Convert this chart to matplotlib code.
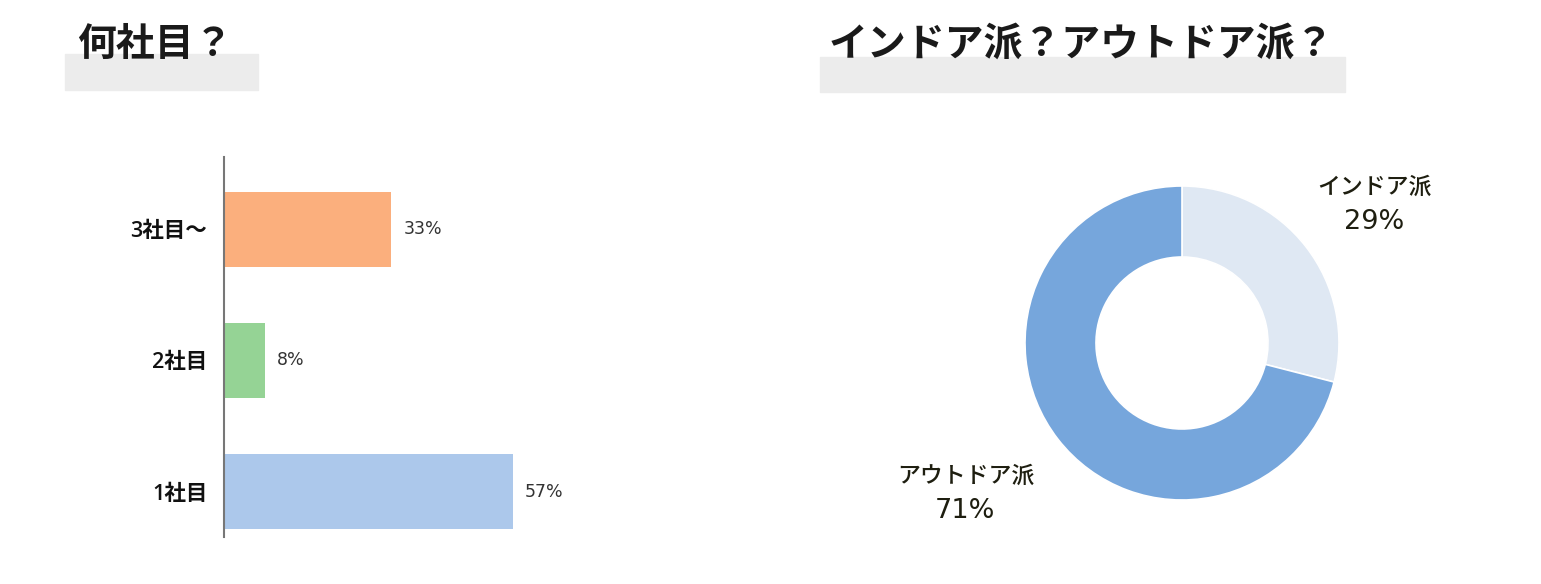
import matplotlib
matplotlib.use('Agg')
import matplotlib.pyplot as plt
import numpy as np
from matplotlib.patches import Rectangle

# latin glyphs from Open Sans, japanese falls through to Noto CJK
plt.rcParams['font.family'] = ['Open Sans', 'Noto Sans CJK JP', 'DejaVu Sans']
PCT_FONT = ['DejaVu Sans', 'Noto Sans CJK JP']

# data
bar_labels = ['1社目', '2社目', '3社目～']
bar_values = [57, 8, 33]
bar_colors = ['#acc8eb', '#95d395', '#fbaf7d']

pie_labels = ['インドア派', 'アウトドア派']
pie_values = [29, 71]
pie_colors = ['#dfe8f3', '#76a6dc']

title1 = '何社目？'
title2 = 'インドア派？アウトドア派？'

W, H = 1541, 584
fig = plt.figure(figsize=(W / 100, H / 100), dpi=100)
fig.patch.set_facecolor('white')

def px(x, y, w, h):
    # pixel box (top-left origin) -> figure fraction
    return [x / W, (H - y - h) / H, w / W, h / H]

#title boxes
for (x, y, w, h), t, tx in [((65, 54, 193, 36), title1, 77),
                            ((820, 57, 525, 35), title2, 829)]:
    fig.patches.append(Rectangle((x / W, (H - y - h) / H), w / W, h / H,
                                 transform=fig.transFigure, color='#ececec', zorder=0))
    fig.text(tx / W, (H - 45) / H, t, fontsize=28, fontweight='bold',
             color='#1a1a1a', va='center', ha='left')

#bar chart
ax = fig.add_axes(px(224, 157, 507, 380))
y = np.arange(len(bar_values))
ax.barh(y, bar_values, height=0.57, color=bar_colors)
for yi, v in zip(y, bar_values):
    ax.text(v + 2.4, yi, '{}%'.format(v), va='center', ha='left',
            fontsize=12.5, color='#333333', family=PCT_FONT)
ax.set_xlim(0, 100)
ax.set_ylim(-0.347, 2.553)
ax.set_yticks(y)
ax.set_yticklabels(bar_labels, fontsize=15.5, fontweight='semibold', color='#111111')
ax.tick_params(axis='y', length=0, pad=12)
ax.set_xticks([])
for s in ['top', 'right', 'bottom']:
    ax.spines[s].set_visible(False)
ax.spines['left'].set_color('#777777')
ax.spines['left'].set_linewidth(1.5)

#donut
R = 157.0
S = 560
bx = fig.add_axes(px(1182 - S / 2, 343 - S / 2, S, S))
bx.pie(pie_values, colors=pie_colors, startangle=90, counterclock=False,
       radius=1, wedgeprops=dict(width=71 / R, edgecolor='white', linewidth=1.2))
lim = S / 2 / R
bx.set_xlim(-lim, lim)
bx.set_ylim(-lim, lim)
bx.set_aspect('equal')
bx.axis('off')

start = 90.0
for lab, v, dist, shift in zip(pie_labels, pie_values, [1.51, 1.68], [-2, -3]):
    mid = np.deg2rad(start - v / 100 * 360 / 2 + shift)
    start -= v / 100 * 360
    cx, cy = dist * np.cos(mid), dist * np.sin(mid)
    bx.text(cx, cy + 0.105, lab, ha='center', va='center', fontsize=16.5,
            fontweight='medium', color='#1e1e10')
    bx.text(cx, cy - 0.11, '{}%'.format(v), ha='center', va='center', fontsize=19.5,
            color='#1e1e10', family=PCT_FONT)

fig.savefig('out.png', dpi=100, facecolor='white')
